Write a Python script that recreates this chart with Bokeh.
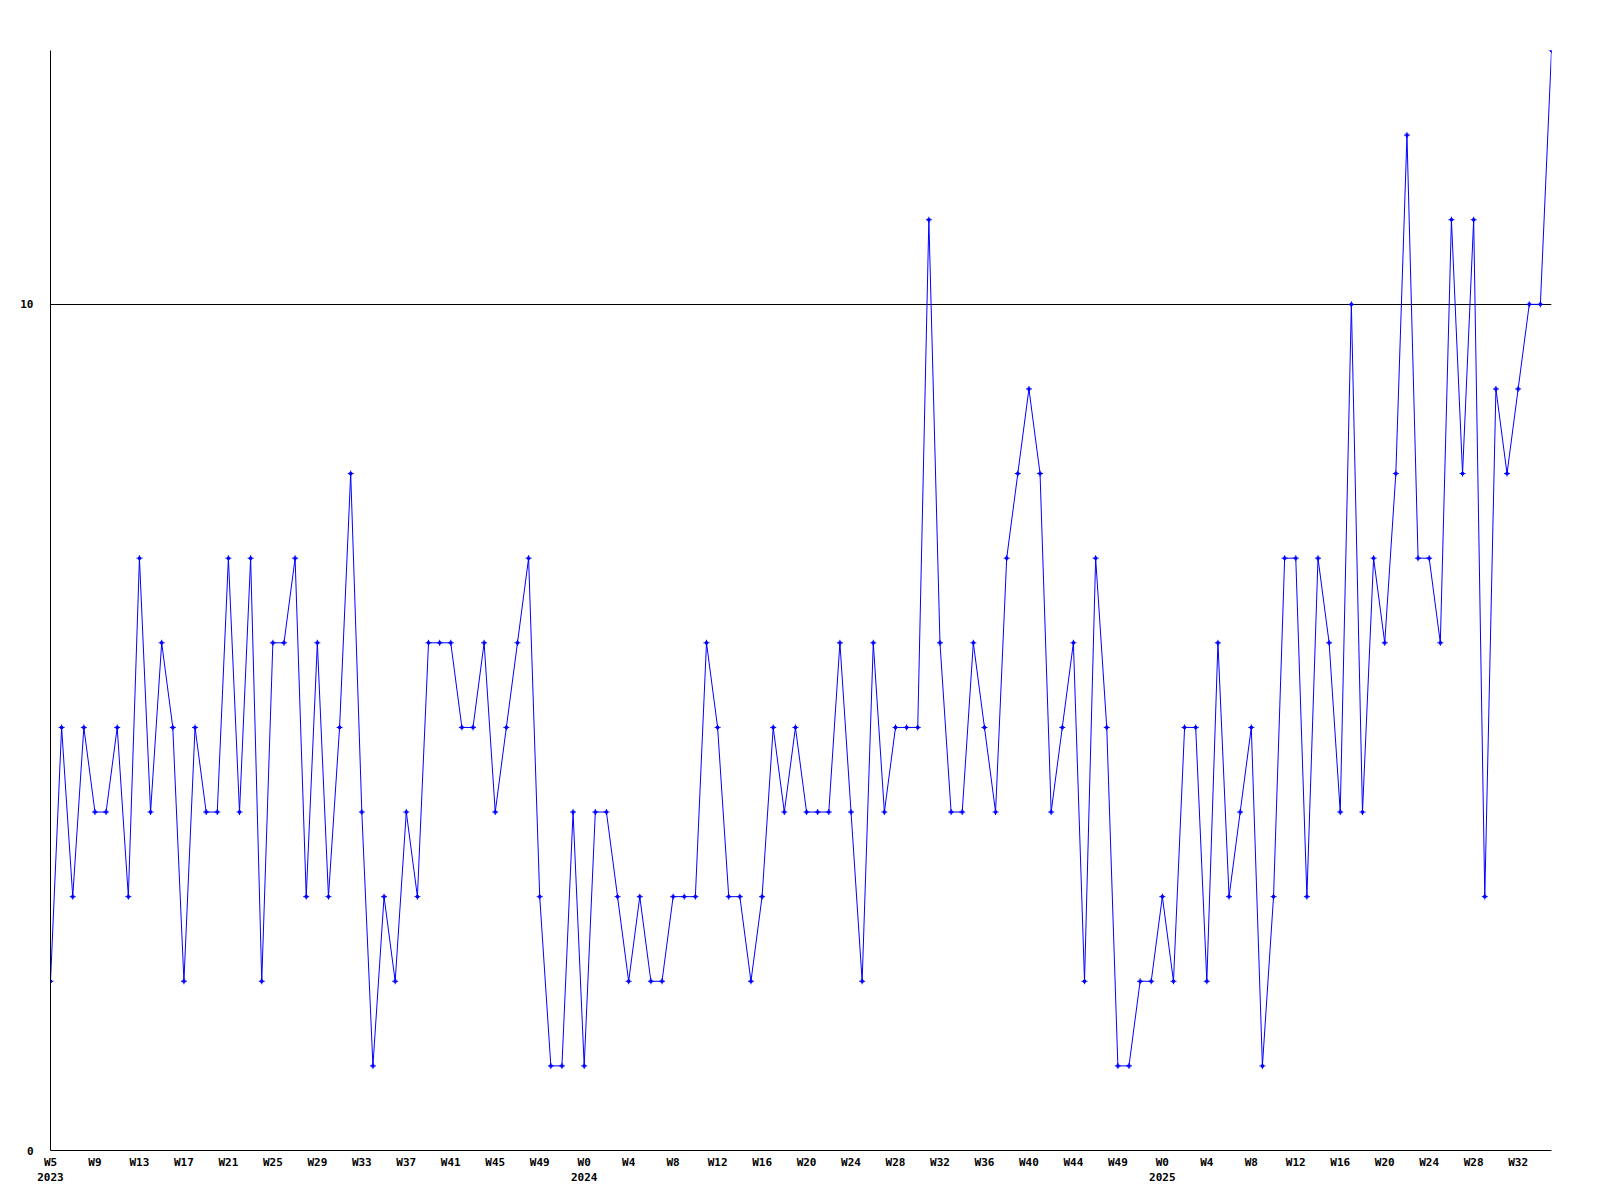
from bokeh.plotting import figure
from bokeh.models import Range1d, FixedTicker, LinearAxis
from bokeh.embed import file_html
from bokeh.resources import INLINE

# weekly values (one per week, starting 2023 W5)
values = [
    2, 5, 3, 5, 4, 4, 5, 3, 7, 4, 6, 5, 2, 5, 4, 4, 7, 4, 7, 2,
    6, 6, 7, 3, 6, 3, 5, 8, 4, 1, 3, 2, 4, 3, 6, 6, 6, 5, 5, 6,
    4, 5, 6, 7, 3, 1, 1, 4, 1, 4, 4, 3, 2, 3, 2, 2, 3, 3, 3, 6,
    5, 3, 3, 2, 3, 5, 4, 5, 4, 4, 4, 6, 4, 2, 6, 4, 5, 5, 5, 11,
    6, 4, 4, 6, 5, 4, 7, 8, 9, 8, 4, 5, 6, 2, 7, 5, 1, 1, 2, 2,
    3, 2, 5, 5, 2, 6, 3, 4, 5, 1, 3, 7, 7, 3, 7, 6, 4, 10, 4, 7,
    6, 8, 12, 7, 7, 6, 11, 8, 11, 3, 9, 8, 9, 10, 10, 13,
]

# tick labels shown every 4th week
week_ticks = [
    "W5", "W9", "W13", "W17", "W21", "W25", "W29", "W33", "W37", "W41", "W45", "W49",
    "W0", "W4", "W8", "W12", "W16", "W20", "W24", "W28", "W32", "W36", "W40", "W44", "W49",
    "W0", "W4", "W8", "W12", "W16", "W20", "W24", "W28", "W32",
]
years = ["2023", "2024", "2025"]
year_tick_pos = [0, 12, 25]  # index into week_ticks where each year starts
y_ticks = [0, 10]

xs = list(range(len(values)))
tick_idx = [4 * k for k in range(len(week_ticks))]
year_idx = [tick_idx[k] for k in year_tick_pos]

FONT = "DejaVu Sans Mono"

p = figure(
    frame_width=1501, frame_height=1100,
    x_range=Range1d(0, len(values) - 1), y_range=Range1d(0, 13),
    output_backend="svg", toolbar_location=None,
    min_border_left=50, min_border_top=50, min_border_right=41, min_border_bottom=0,
)
p.outline_line_color = None
p.background_fill_color = "white"
p.border_fill_color = "white"

p.line(xs, values, line_color="#0000ff", line_width=1)
p.scatter(xs, values, marker="cross", size=6, line_width=1, line_color="#0000ff")
p.scatter(xs, values, marker="square", size=3, line_width=0, fill_color="#0000ff", line_color=None)

# x axis (week labels)
xa = p.xaxis[0]
xa.ticker = FixedTicker(ticks=tick_idx)
xa.major_label_overrides = {t: lab for t, lab in zip(tick_idx, week_ticks)}
# y axis
ya = p.yaxis[0]
ya.ticker = FixedTicker(ticks=y_ticks)

for ax in (xa, ya):
    ax.axis_line_color = "black"
    ax.axis_line_width = 1
    ax.major_tick_line_color = None
    ax.minor_tick_line_color = None
    ax.major_tick_in = 0
    ax.major_tick_out = 0
    ax.major_label_text_font = FONT
    ax.major_label_text_font_style = "bold"
    ax.major_label_text_font_size = "11px"
    ax.major_label_text_color = "black"
xa.major_label_standoff = 5
ya.major_label_standoff = 17
ya.major_label_text_align = "left"

# second row: years
ya2 = LinearAxis(ticker=FixedTicker(ticks=year_idx))
ya2.major_label_overrides = {t: y for t, y in zip(year_idx, years)}
ya2.axis_line_color = None
ya2.major_tick_line_color = None
ya2.minor_tick_line_color = None
ya2.major_tick_in = 0
ya2.major_tick_out = 0
ya2.major_label_standoff = 1
ya2.major_label_text_font = FONT
ya2.major_label_text_font_style = "bold"
ya2.major_label_text_font_size = "11px"
ya2.major_label_text_color = "black"
p.add_layout(ya2, "below")

p.xgrid.grid_line_color = None
p.ygrid.ticker = FixedTicker(ticks=y_ticks)
p.ygrid.grid_line_color = "black"
p.ygrid.grid_line_width = 1

open("out.html", "w").write(file_html(p, INLINE))
